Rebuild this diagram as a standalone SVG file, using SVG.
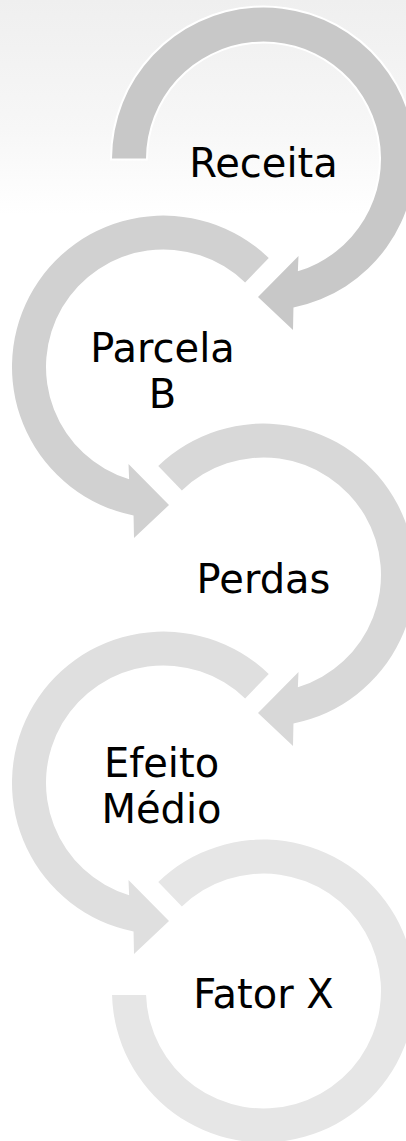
<svg xmlns="http://www.w3.org/2000/svg" width="406" height="1141" viewBox="0 0 406 1141">
  <defs>
    <linearGradient id="bg" x1="0" y1="0" x2="0" y2="1">
      <stop offset="0" stop-color="#efefef"/>
      <stop offset="0.6" stop-color="#f7f7f7"/>
      <stop offset="1" stop-color="#ffffff"/>
    </linearGradient>
    <style>
      .arrow { stroke: #ffffff; stroke-width: 4; paint-order: stroke; stroke-linejoin: miter; }
      .label { font-family: "DejaVu Sans", Verdana, sans-serif; font-size: 40px; fill: #000000; text-anchor: middle; }
    </style>
  </defs>
  <rect x="0" y="0" width="406" height="1141" fill="#ffffff"/>
  <rect x="0" y="0" width="406" height="215" fill="url(#bg)"/>

  <g id="connectors">
    <path id="arrow-1" class="arrow" fill="#c8c8c8" d="M112,158.5 A151.5,151.5 0 1 1 293.45,307.5 L293,330 L258,297 L298.5,256 L297.86,271.36 A117.5,117.5 0 1 0 146,158.5 Z"/>
    <path id="arrow-2" class="arrow" fill="#d1d1d1" d="M268.75,258.03 A151.5,151.5 0 1 0 133.55,515.5 L134,538 L169,505 L128.5,464 L129.14,479.36 A117.5,117.5 0 1 1 245.13,282.48 Z"/>
    <path id="arrow-3" class="arrow" fill="#d8d8d8" d="M158.25,466.03 A151.5,151.5 0 1 1 293.45,723.5 L293,746 L258,713 L298.5,672 L297.86,687.36 A117.5,117.5 0 1 0 181.87,490.48 Z"/>
    <path id="arrow-4" class="arrow" fill="#dfdfdf" d="M268.75,674.03 A151.5,151.5 0 1 0 133.55,931.5 L134,954 L169,921 L128.5,880 L129.14,895.36 A117.5,117.5 0 1 1 245.13,698.48 Z"/>
    <path id="arrow-5" class="arrow" fill="#e6e6e6" d="M158.25,882.03 A151.5,151.5 0 1 1 112.05,995 L146.07,995 A117.5,117.5 0 1 0 181.87,906.48 Z"/>
  </g>

  <g id="node-receita">
    <text class="label" x="263.5" y="177">Receita</text>
  </g>
  <g id="node-parcela-b">
    <text class="label" x="162.5" y="362">Parcela</text>
    <text class="label" x="162.5" y="407.5">B</text>
  </g>
  <g id="node-perdas">
    <text class="label" x="263.5" y="593">Perdas</text>
  </g>
  <g id="node-efeito-medio">
    <text class="label" x="161.5" y="777">Efeito</text>
    <text class="label" x="161.5" y="823">Médio</text>
  </g>
  <g id="node-fator-x">
    <text class="label" x="263.5" y="1008">Fator X</text>
  </g>
</svg>
